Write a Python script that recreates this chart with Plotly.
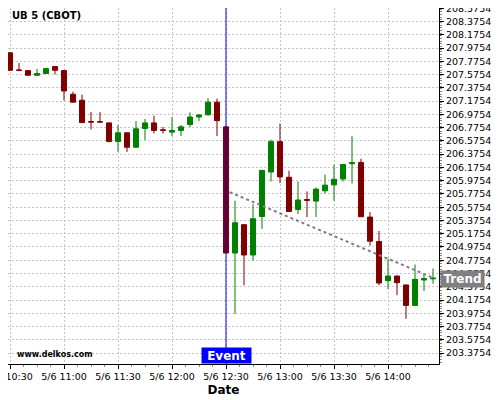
"""UB 5 (CBOT) 5-minute candles with event marker and trend line."""

import plotly.graph_objects as go

DAY = "2024-05-06 "

times = [
    "10:30", "10:35", "10:40", "10:45", "10:50", "10:55",
    "11:00", "11:05", "11:10", "11:15", "11:20", "11:25",
    "11:30", "11:35", "11:40", "11:45", "11:50", "11:55",
    "12:00", "12:05", "12:10", "12:15", "12:20", "12:25",
    "12:30", "12:35", "12:40", "12:45", "12:50", "12:55",
    "13:00", "13:05", "13:10", "13:15", "13:20", "13:25",
    "13:30", "13:35", "13:40", "13:45", "13:50", "13:55",
    "14:00", "14:05", "14:10", "14:15", "14:20", "14:25",
]
opens = [
    207.905, 207.645, 207.636, 207.566, 207.592, 207.696,
    207.636, 207.279, 207.189, 206.865, 206.865, 206.847,
    206.568, 206.698, 206.479, 206.762, 206.847, 206.742,
    206.708, 206.732, 206.821, 206.936, 206.970, 207.160,
    206.787, 204.884, 205.312, 204.854, 205.435, 206.106,
    206.564, 206.027, 205.540, 205.690, 205.667, 205.823,
    205.912, 206.001, 206.231, 206.251, 205.426, 205.058,
    204.467, 204.537, 204.403, 204.094, 204.477, 204.495,
]
highs = [
    207.910, 207.751, 207.640, 207.662, 207.670, 207.700,
    207.640, 207.319, 207.274, 207.011, 207.011, 206.850,
    206.812, 206.700, 206.876, 206.906, 206.955, 206.787,
    206.932, 206.817, 207.006, 206.981, 207.219, 207.214,
    206.790, 205.674, 205.315, 205.620, 206.131, 206.593,
    206.836, 206.126, 205.962, 205.814, 205.873, 206.067,
    206.216, 206.220, 206.648, 206.306, 205.501, 205.217,
    204.800, 204.540, 204.405, 204.711, 204.562, 204.651,
]
lows = [
    207.630, 207.626, 207.557, 207.557, 207.590, 207.577,
    207.185, 207.150, 206.851, 206.747, 206.847, 206.553,
    206.410, 206.410, 206.479, 206.589, 206.687, 206.687,
    206.648, 206.648, 206.782, 206.876, 206.955, 206.648,
    204.884, 203.966, 204.398, 204.771, 205.247, 205.962,
    205.938, 205.510, 205.471, 205.426, 205.426, 205.784,
    205.674, 205.962, 205.933, 205.431, 204.994, 204.398,
    204.343, 204.249, 203.891, 204.090, 204.309, 204.422,
]
closes = [
    207.641, 207.640, 207.566, 207.592, 207.666, 207.641,
    207.328, 207.160, 206.851, 206.860, 206.860, 206.568,
    206.698, 206.479, 206.757, 206.847, 206.732, 206.735,
    206.732, 206.787, 206.936, 206.966, 207.160, 206.881,
    204.884, 205.341, 204.854, 205.401, 206.131, 206.564,
    206.032, 205.510, 205.684, 205.680, 205.848, 205.908,
    205.997, 206.220, 206.246, 205.431, 205.063, 204.432,
    204.537, 204.437, 204.094, 204.487, 204.497, 204.505,
]

trend_times = ["12:32", "14:25"]
trend_values = [205.803, 204.511]
trend_label_y = 204.49
event_time = "12:30"

RED = "#800000"
GREEN = "#008000"
GRID = "#c4c4c4"
FONT = "DejaVu Sans"

fig = go.Figure()
fig.add_trace(go.Candlestick(
    x=[DAY + t for t in times], open=opens, high=highs, low=lows, close=closes,
    increasing=dict(line=dict(color=GREEN, width=1), fillcolor=GREEN),
    decreasing=dict(line=dict(color=RED, width=1), fillcolor=RED),
    whiskerwidth=0, showlegend=False,
))
fig.add_trace(go.Scatter(
    x=[DAY + t for t in trend_times], y=trend_values, mode="lines",
    line=dict(color="#808080", width=2, dash="dot"), showlegend=False,
))

fig.add_shape(type="line", xref="x", yref="paper", x0=DAY + event_time, x1=DAY + event_time,
              y0=0, y1=1, line=dict(color="#0000ff", width=1))
fig.add_annotation(x=DAY + event_time, xref="x", y=0, yref="paper", yanchor="bottom",
                   text="<b>Event</b>", showarrow=False, bgcolor="#0000ff", borderpad=0,
                   width=49, height=15, align="center",
                   font=dict(family=FONT, size=12, color="#ffffff"))
fig.add_annotation(x=1, xref="paper", xanchor="left", xshift=1, y=trend_label_y, yref="y",
                   yanchor="middle", text="<b>Trend</b>", showarrow=False, bgcolor="#808080",
                   borderpad=0, width=43, height=16, align="center",
                   font=dict(family=FONT, size=12, color="#ffffff"))
fig.add_annotation(x=0.005, xref="paper", xanchor="left", y=0.98, yref="paper", yanchor="middle",
                   text="<b>UB 5 (CBOT)</b>", showarrow=False,
                   font=dict(family=FONT, size=10, color="#000000"))
fig.add_annotation(x=0.016, xref="paper", xanchor="left", y=0.028, yref="paper", yanchor="middle",
                   text="<b>www.delkos.com</b>", showarrow=False,
                   font=dict(family=FONT, size=8, color="#000000"))

fig.update_layout(
    width=500, height=400, margin=dict(l=0, r=69, t=0, b=44),
    paper_bgcolor="#ffffff", plot_bgcolor="#ffffff", boxgap=0.2,
    font=dict(family=FONT, size=10, color="#000000"),
    xaxis=dict(
        type="date", range=[DAY + "10:28:53", DAY + "14:28:20"], automargin=False,
        rangeslider=dict(visible=False),
        tick0=DAY + "10:30", dtick=30 * 60 * 1000, tickformat="%-m/%-d %H:%M",
        ticks="outside", ticklen=4, tickcolor="#000000", ticklabeloverflow="allow",
        showline=True, linecolor="#000000", linewidth=1,
        showgrid=True, gridcolor=GRID, griddash="2px,2px", gridwidth=1,
        minor=dict(ticks="outside", ticklen=2, dtick=450000, tickcolor="#888888",
                   showgrid=False),
        title=dict(text="<b>Date</b>", font=dict(family=FONT, size=12), standoff=4),
        tickfont=dict(size=9.5),
    ),
    yaxis=dict(
        side="right", range=[203.21, 208.58], automargin=False,
        tick0=203.3754, dtick=0.2, tickformat=".4f", ticklabeloverflow="allow",
        ticks="outside", ticklen=4, tickcolor="#000000",
        showline=True, linecolor="#000000", linewidth=1,
        showgrid=True, gridcolor=GRID, griddash="2px,2px", gridwidth=1,
        minor=dict(ticks="outside", ticklen=2, dtick=0.04, tickcolor="#888888",
                   showgrid=False),
        tickfont=dict(size=9.5), zeroline=False,
    ),
)

fig.write_html("out.html")
